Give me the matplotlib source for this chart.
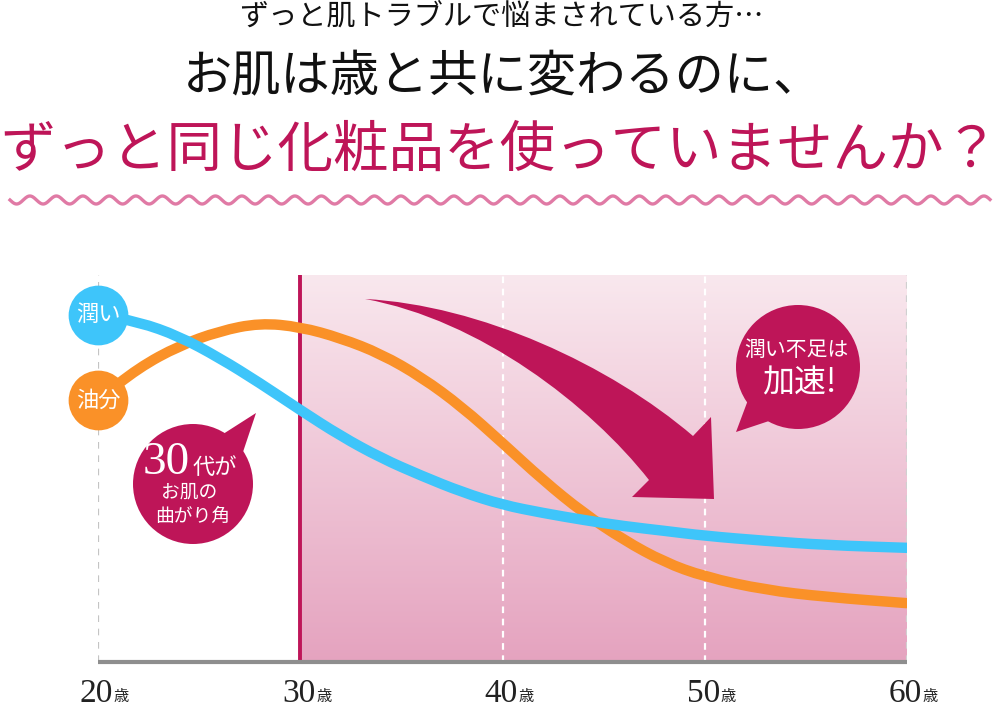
import numpy as np
import matplotlib
matplotlib.use("Agg")
import matplotlib.pyplot as plt
from matplotlib.patches import Circle, Polygon, PathPatch
from matplotlib.path import Path

plt.rcParams['font.family'] = ['Noto Sans CJK JP', 'DejaVu Sans']

# data (level 0 = baseline, 100 = top of chart)
ages = [20, 22, 24, 26, 28, 30, 32, 34, 36, 38, 40, 42, 44, 46, 48, 50, 53, 56, 60]
moisture = [89.7, 87.9, 84.2, 78.6, 72.1, 65.1, 58.4, 52.7, 48.1, 43.9, 40.6,
            38.5, 36.7, 35.1, 33.9, 32.6, 31.3, 30.2, 29.5]
oil = [67.7, 76.0, 81.7, 85.5, 87.6, 86.6, 83.7, 79.6, 73.6, 65.9, 56.6,
       47.0, 38.5, 31.5, 25.8, 22.0, 18.6, 16.8, 15.2]
tick_ages = [20, 30, 40, 50, 60]
tick_suffix = '歳'
series_names = ['潤い', '油分']

MAGENTA = '#be1558'
BLUE = '#3ec5fa'
ORANGE = '#fa9128'

W, H = 1000, 717


def smooth_path(xs, ys):
    """Quadratic curve through the midpoints of the read points."""
    pts = list(zip(xs, ys))
    verts = [pts[0], ((pts[0][0] + pts[1][0]) / 2, (pts[0][1] + pts[1][1]) / 2)]
    codes = [Path.MOVETO, Path.LINETO]
    for i in range(1, len(pts) - 1):
        mid = ((pts[i][0] + pts[i + 1][0]) / 2, (pts[i][1] + pts[i + 1][1]) / 2)
        verts += [pts[i], mid]
        codes += [Path.CURVE3, Path.CURVE3]
    verts.append(pts[-1])
    codes.append(Path.LINETO)
    return Path(verts, codes)


fig = plt.figure(figsize=(W / 100, H / 100), dpi=100)
fig.patch.set_facecolor('white')

# main chart area (pixels: x 98..907, y 275..662)
ax = fig.add_axes([98 / W, (H - 662) / H, (907 - 98) / W, (662 - 275) / H])
ax.set_xlim(20, 60)
ax.set_ylim(0, 100)
ax.axis('off')

# pink gradient for 30+ years
grad = np.linspace(0, 1, 256).reshape(256, 1, 1)
top = np.array([249, 232, 238]) / 255
bot = np.array([229, 163, 191]) / 255
img = top + (bot - top) * grad
ax.imshow(img, extent=(30, 60, 0, 100), aspect='auto', origin='upper', zorder=0)

# vertical guides
ax.plot([20, 20], [0, 100], color='#c4c4c4', lw=1.6, ls=(0, (3, 3)), zorder=1)
ax.plot([60, 60], [0, 100], color='#d0d0d0', lw=1.6, ls=(0, (3, 3)), zorder=1)
for a in (40, 50):
    ax.plot([a, a], [0, 100], color='white', lw=1.6, ls=(0, (3, 2.5)), zorder=1)
ax.plot([30, 30], [0, 100], color=MAGENTA, lw=2.8, zorder=2)
ax.plot([20, 60], [0, 0], color='#8e8e8e', lw=3, solid_capstyle='butt', zorder=2, clip_on=False)

# curves
for vals, col, z in ((oil, ORANGE, 3), (moisture, BLUE, 4)):
    ax.add_patch(PathPatch(smooth_path(ages, vals), fill=False, edgecolor=col, lw=7.5,
                           capstyle='round', joinstyle='round', zorder=z))

# start markers with labels
ax.scatter([ages[0]], [moisture[0]], s=1850, color=BLUE, zorder=5, clip_on=False, linewidths=0)
ax.scatter([ages[0]], [oil[0]], s=1850, color=ORANGE, zorder=5, clip_on=False, linewidths=0)
ax.text(ages[0], moisture[0], series_names[0], color='white', fontsize=16,
        ha='center', va='center', zorder=6)
ax.text(ages[0], oil[0], series_names[1], color='white', fontsize=16,
        ha='center', va='center', zorder=6)

# x tick labels
for a in tick_ages:
    ax.annotate(str(a), xy=(a, 0), xycoords=('data', 'axes fraction'),
                xytext=(-1, -28.5), textcoords='offset points', ha='center', va='baseline',
                fontsize=24, family='Liberation Serif', color='#222222',
                annotation_clip=False)
    ax.annotate(tick_suffix, xy=(a, 0), xycoords=('data', 'axes fraction'),
                xytext=(11.5, -28), textcoords='offset points', ha='left', va='baseline',
                fontsize=11, color='#222222', annotation_clip=False)

# decoration layer in pixel coordinates
deco = fig.add_axes([0, 0, 1, 1], zorder=10)
deco.set_xlim(0, W)
deco.set_ylim(H, 0)
deco.axis('off')
deco.patch.set_alpha(0)

# headings
deco.text(501, 17, 'ずっと肌トラブルで悩まされている方…', fontsize=21,
          ha='center', va='center', color='#111111')
deco.text(503, 77, 'お肌は歳と共に変わるのに、', fontsize=35.5,
          ha='center', va='center', color='#111111')
deco.text(500, 151, 'ずっと同じ化粧品を使っていませんか？', fontsize=40,
          ha='center', va='center', color=MAGENTA)

# wavy underline
wx = np.linspace(10, 990, 2000)
deco.plot(wx, 200 + 4 * np.sin(2 * np.pi * (wx - 10) / 26.5), color='#e07aa5', lw=2.4)

# big curved arrow
verts = [(365, 299), (480, 305), (610, 365), (693, 436),
         (711, 417), (714, 499), (632, 497), (649, 480),
         (590, 405), (480, 320), (365, 299), (365, 299)]
codes = [Path.MOVETO, Path.CURVE4, Path.CURVE4, Path.CURVE4,
         Path.LINETO, Path.LINETO, Path.LINETO, Path.LINETO,
         Path.CURVE4, Path.CURVE4, Path.CURVE4, Path.CLOSEPOLY]
deco.add_patch(PathPatch(Path(verts, codes), facecolor=MAGENTA, edgecolor='none'))

# bubble: 30代がお肌の曲がり角
deco.add_patch(Circle((193, 484), 60, facecolor=MAGENTA, edgecolor='none'))
deco.add_patch(Polygon([(220, 436), (256, 413), (243, 452)], closed=True,
                       facecolor=MAGENTA, edgecolor='none'))
deco.text(166, 474, '30', fontsize=34, family='Liberation Serif', color='white',
          ha='center', va='baseline')
deco.text(215, 474, '代が', fontsize=16, color='white', ha='center', va='baseline')
deco.text(189, 492, 'お肌の', fontsize=13.5, color='white', ha='center', va='center')
deco.text(193, 516, '曲がり角', fontsize=13.5, color='white', ha='center', va='center')

# bubble: 潤い不足は加速!
deco.add_patch(Circle((798, 367), 62, facecolor=MAGENTA, edgecolor='none'))
deco.add_patch(Polygon([(748, 400), (736, 432), (772, 420)], closed=True,
                       facecolor=MAGENTA, edgecolor='none'))
deco.text(796, 350, '潤い不足は', fontsize=15, color='white', ha='center', va='center')
deco.text(799, 383, '加速!', fontsize=23, color='white', ha='center', va='center')

fig.savefig('out.png', dpi=100, facecolor='white')
